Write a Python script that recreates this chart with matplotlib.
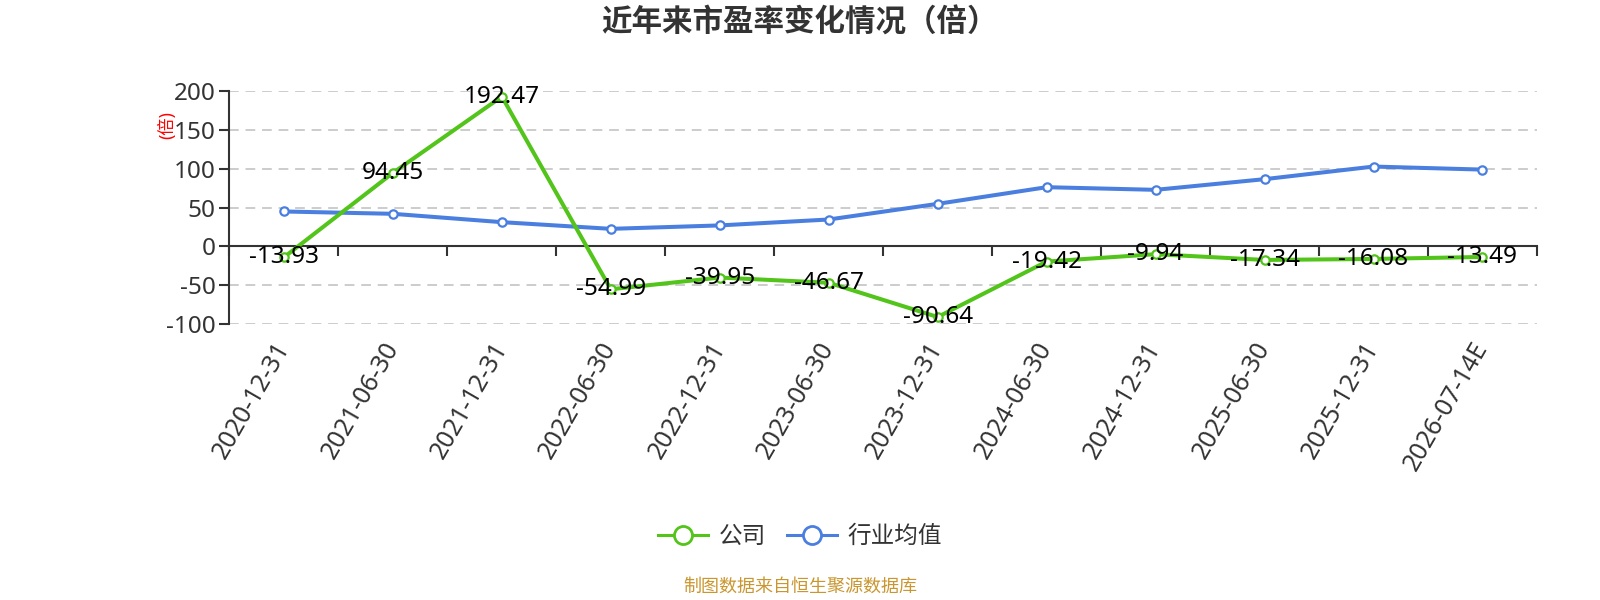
import matplotlib
matplotlib.use('Agg')
import matplotlib.pyplot as plt
from matplotlib.lines import Line2D
from matplotlib.ticker import FixedLocator, MultipleLocator

plt.rcParams['font.family'] = ['Noto Sans', 'Noto Sans CJK SC', 'DejaVu Sans']
plt.rcParams['axes.unicode_minus'] = False

# data
dates = ['2020-12-31', '2021-06-30', '2021-12-31', '2022-06-30', '2022-12-31',
         '2023-06-30', '2023-12-31', '2024-06-30', '2024-12-31', '2025-06-30',
         '2025-12-31', '2026-07-14E']
company = [-13.93, 94.45, 192.47, -54.99, -39.95, -46.67, -90.64,
           -19.42, -9.94, -17.34, -16.08, -13.49]
industry = [44.9, 41.9, 31.2, 22.6, 27.0, 34.6, 54.7, 76.1, 72.7, 86.4, 102.6, 98.7]

green = '#52c41a'
blue = '#4a7fe0'
txt = '#333333'

fig = plt.figure(figsize=(16, 6), dpi=100)
ax = fig.add_axes([0.1434, 0.4595, 0.8172, 0.3893])

x = list(range(len(dates)))
ax.plot(x, company, color=green, lw=2.9, marker='o', ms=6, mfc='white',
        mec=green, mew=1.6, zorder=4, clip_on=False)
ax.plot(x, industry, color=blue, lw=2.9, marker='o', ms=6, mfc='white',
        mec=blue, mew=1.6, zorder=3, clip_on=False)

for xi, v in zip(x, company):
    ax.annotate(f'{v:.2f}', (xi, v), xytext=(0, 0), textcoords='offset points',
                ha='center', va='center', fontsize=17.5, color='black', zorder=6)

ax.set_xlim(-0.5, len(dates) - 0.5)
ax.set_ylim(-100, 200)
ax.yaxis.set_major_locator(MultipleLocator(50))
ax.grid(axis='y', color='#cccccc', lw=1.4, ls=(0, (5, 3.5)))
ax.set_axisbelow(True)
fig.canvas.draw()
for tv, gl in zip(ax.get_yticks(), ax.get_ygridlines()):
    if tv == 0:
        gl.set_visible(False)

for s in ['top', 'right', 'bottom']:
    ax.spines[s].set_visible(False)
ax.spines['left'].set_color(txt)
ax.spines['left'].set_linewidth(1.5)
ax.tick_params(axis='y', colors=txt, labelsize=17.5, length=7, width=1.5, pad=3)

ax.set_xticks(x)
ax.set_xticklabels(dates, rotation=60, ha='right', va='center',
                   rotation_mode='anchor', fontsize=18, color=txt)
ax.tick_params(axis='x', length=0, pad=14)

# zero line axis with boundary ticks
sec = ax.secondary_xaxis(0, transform=ax.transData)
sec.xaxis.set_major_locator(FixedLocator([i - 0.5 for i in range(len(dates) + 1)]))
sec.tick_params(axis='x', direction='out', length=7, width=1.5, color=txt,
                labelbottom=False)
sec.spines['bottom'].set_color(txt)
sec.spines['bottom'].set_linewidth(1.5)

ax.set_ylabel('(倍)', color='red', fontsize=12.5, labelpad=2)
ax.yaxis.set_label_coords(-0.041, 0.853)

fig.text(0.5, 0.963, '近年来市盈率变化情况（倍）', ha='center', va='center',
         fontsize=22, fontweight='bold', color=txt, family='Noto Sans CJK SC')

handles = [Line2D([], [], color=green, lw=2.2, marker='o', ms=13, mfc='white',
                  mec=green, mew=2),
           Line2D([], [], color=blue, lw=2.2, marker='o', ms=13, mfc='white',
                  mec=blue, mew=2)]
leg = fig.legend(handles, ['公司', '行业均值'], loc='center', bbox_to_anchor=(0.5, 0.105),
                 ncol=2, frameon=False, fontsize=17, handlelength=2.1,
                 handletextpad=0.45, columnspacing=0.9)
for t in leg.get_texts():
    t.set_color(txt)

fig.text(0.5, 0.022, '制图数据来自恒生聚源数据库', ha='center', va='center',
         fontsize=13, color='#c9962f')

fig.savefig('out.png', dpi=100)
